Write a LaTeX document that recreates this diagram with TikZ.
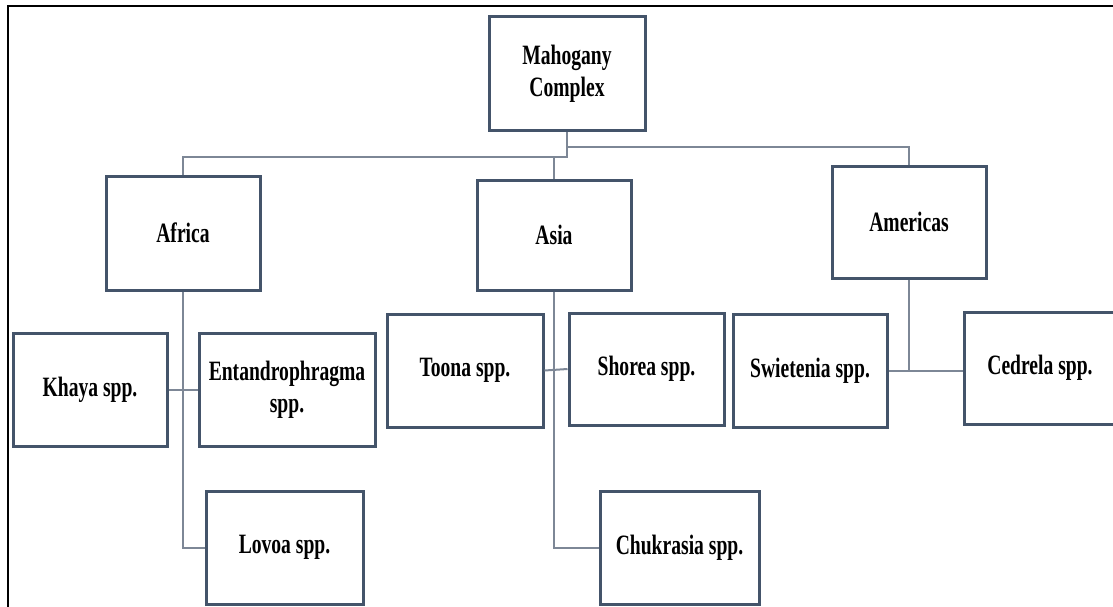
\documentclass[tikz,border=0pt]{standalone}
\usepackage{fontspec}
\setmainfont{Liberation Serif}[FakeStretch=0.7]
\definecolor{boxline}{RGB}{68,84,106}
\definecolor{connline}{RGB}{125,135,150}
\begin{document}
\begin{tikzpicture}[x=1pt,y=-1pt,
  box/.style={draw=boxline,line width=3pt,fill=white,inner sep=0pt,align=center,
    font=\fontsize{28}{32}\selectfont\bfseries},
  conn/.style={draw=connline,line width=2pt}]
\clip (0,0) rectangle (1113,607);
\useasboundingbox (0,0) rectangle (1113,607);
% frame
\draw[black,line width=1.5pt] (8,607) -- (8,6) -- (1113,6);
% boxes
\node[box,minimum width=156pt,minimum height=114pt] (top) at (567,74) {Mahogany\\Complex};
\node[box,minimum width=154pt,minimum height=114pt] (africa) at (183,233) {Africa};
\node[box,minimum width=154pt,minimum height=110pt] (asia) at (554,235) {Asia};
\node[box,minimum width=154pt,minimum height=112pt] (americas) at (909,222) {Americas};
\node[box,minimum width=154pt,minimum height=113pt] (khaya) at (90,389.5) {Khaya spp.};
\node[box,minimum width=176pt,minimum height=113pt] (entandro) at (287,389.5) {Entandrophragma\\spp.};
\node[box,minimum width=156pt,minimum height=113pt] (toona) at (465,370.5) {Toona spp.};
\node[box,minimum width=155pt,minimum height=112pt] (shorea) at (646.5,369) {Shorea spp.};
\node[box,minimum width=154pt,minimum height=113pt] (swietenia) at (810,370.5) {Swietenia spp.};
\node[box,minimum width=152pt,minimum height=112pt] (cedrela) at (1040,368) {Cedrela spp.};
\node[box,minimum width=157pt,minimum height=113pt] (lovoa) at (284.5,547.5) {Lovoa spp.};
\node[box,minimum width=159pt,minimum height=113pt] (chukrasia) at (679.5,547.5) {Chukrasia spp.};
% connectors
\draw[conn] (top.south) -- ++(0,14) -| (americas.north);
\draw[conn] (top.south) -- ++(0,24) -| (africa.north);
\draw[conn] (top.south) ++(0,24) -| (asia.north);
\draw[conn] (africa.south) |- (lovoa.west);
\draw[conn] (khaya.east) -- (entandro.west);
\draw[conn] (asia.south) |- (chukrasia.west);
\draw[conn] (toona.east) -- (shorea.west);
\draw[conn] (americas.south) -- (americas.south |- swietenia.east);
\draw[conn] (swietenia.east) -- (swietenia.east -| cedrela.west);
\end{tikzpicture}
\end{document}
